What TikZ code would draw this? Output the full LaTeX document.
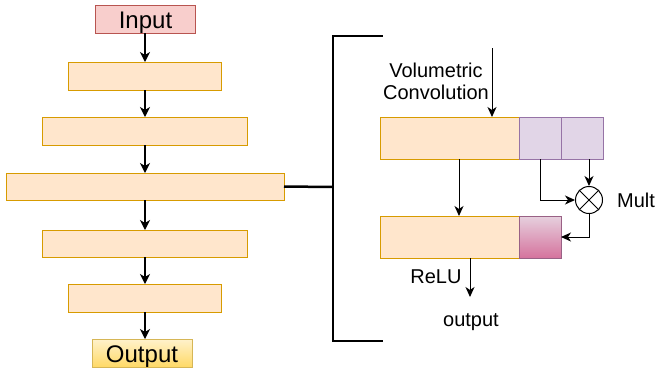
\documentclass[tikz,border=0pt]{standalone}
\usepackage{fontspec}
\setmainfont{Liberation Sans}
\usetikzlibrary{arrows.meta,calc}
\definecolor{orfill}{HTML}{FFE6CC}
\definecolor{ordraw}{HTML}{D79B00}
\definecolor{rdfill}{HTML}{F8CECC}
\definecolor{rddraw}{HTML}{B85450}
\definecolor{pufill}{HTML}{E1D5E7}
\definecolor{pudraw}{HTML}{9673A6}
\definecolor{pktop}{HTML}{E6D0DE}
\definecolor{pkbot}{HTML}{D5739D}
\definecolor{pkdraw}{HTML}{996185}
\definecolor{yltop}{HTML}{FFF2CC}
\definecolor{ylbot}{HTML}{FFD966}
\definecolor{yldraw}{HTML}{D6B656}
\begin{document}
\begin{tikzpicture}[x=1pt,y=-1pt,
  base/.style={line width=1pt,inner sep=0pt,anchor=north west,outer sep=0pt},
  obox/.style={base,draw=ordraw,fill=orfill},
  pbox/.style={base,draw=pudraw,fill=pufill},
  bigtxt/.style={font=\fontsize{24}{27}\selectfont,inner sep=0pt},
  smtxt/.style={font=\fontsize{20}{22}\selectfont,inner sep=0pt},
  arrL/.style={line width=1.5pt,-{Stealth[length=10pt,width=10pt,inset=3pt]}},
  arrR/.style={line width=1pt,-{Stealth[length=10pt,width=9pt,inset=3pt]}},
  brk/.style={line width=2.5pt}
]
\useasboundingbox (0,0) rectangle (657,368);
% left column
\node[base,draw=rddraw,fill=rdfill,minimum width=100pt,minimum height=28pt] (in) at (95,5) {};
\node[bigtxt,anchor=base] (intxt) at (145.5,28) {Input};
\node[obox,minimum width=153pt,minimum height=28pt] (b1) at (68,62) {};
\node[obox,minimum width=205pt,minimum height=28pt] (b2) at (42,117) {};
\node[obox,minimum width=278pt,minimum height=27pt] (b3) at (6,173) {};
\node[obox,minimum width=205pt,minimum height=27pt] (b4) at (42,230) {};
\node[obox,minimum width=153pt,minimum height=28pt] (b5) at (68,284) {};
\node[base,draw=yldraw,top color=yltop,bottom color=ylbot,minimum width=100pt,minimum height=28pt] (out) at (92,339) {};
\node[bigtxt,anchor=base] (outtxt) at (142,362) {Output};
\draw[arrL] (in.south -| 145,0) -- (b1.north -| 145,0);
\draw[arrL] (b1.south -| 145,0) -- (b2.north -| 145,0);
\draw[arrL] (b2.south -| 145,0) -- (b3.north -| 145,0);
\draw[arrL] (b3.south -| 145,0) -- (b4.north -| 145,0);
\draw[arrL] (b4.south -| 145,0) -- (b5.north -| 145,0);
\draw[arrL] (b5.south -| 145,0) -- (out.north -| 145,0);
% bracket
\coordinate (brkmid) at (333,187);
\coordinate (brktop) at (382,36);
\coordinate (brkbot) at (382,341);
\draw[brk] (b3.east) -- (brkmid);
\draw[brk,line cap=rect] (brktop) -- (333,36) -- (333,341) -- (brkbot);
% right detail
\node[obox,minimum width=139pt,minimum height=42pt] (t1) at (380,117) {};
\node[pbox,minimum width=42pt,minimum height=42pt] (p1) at (519,117) {};
\node[pbox,minimum width=42pt,minimum height=42pt] (p2) at (561,117) {};
\node[obox,minimum width=139pt,minimum height=42pt] (t2) at (380,216) {};
\node[base,draw=pkdraw,top color=pktop,bottom color=pkbot,minimum width=42pt,minimum height=42pt] (pk) at (519,216) {};
\node[draw,circle,line width=1pt,minimum size=27pt,inner sep=0pt,fill=white] (mult) at (589,200) {};
\draw[line width=1pt] (mult.north west) -- (mult.south east) (mult.north east) -- (mult.south west);
\node[smtxt,anchor=base west] (multtxt) at (617,207) {Mult};
\node[smtxt,align=center,anchor=center] (vc) at (436,81) {Volumetric\\Convolution};
\coordinate (vtop) at (492,48);
\draw[arrR] (vtop) -- (vtop |- t1.north);
\draw[arrR] ([xshift=79pt]t1.south west) -- ([xshift=79pt]t2.north west);
\draw[arrR] (p1.south) |- (mult.west);
\draw[arrR] (mult.north |- p2.south) -- (mult.north);
\draw[arrR] (mult.south) |- (pk.east);
\coordinate (oend) at (470,297);
\draw[arrR] (oend |- t2.south) -- (oend);
\node[smtxt,anchor=base] (relu) at (436,283) {ReLU};
\node[smtxt,anchor=base] (outp) at (471,326) {output};
\end{tikzpicture}
\end{document}
